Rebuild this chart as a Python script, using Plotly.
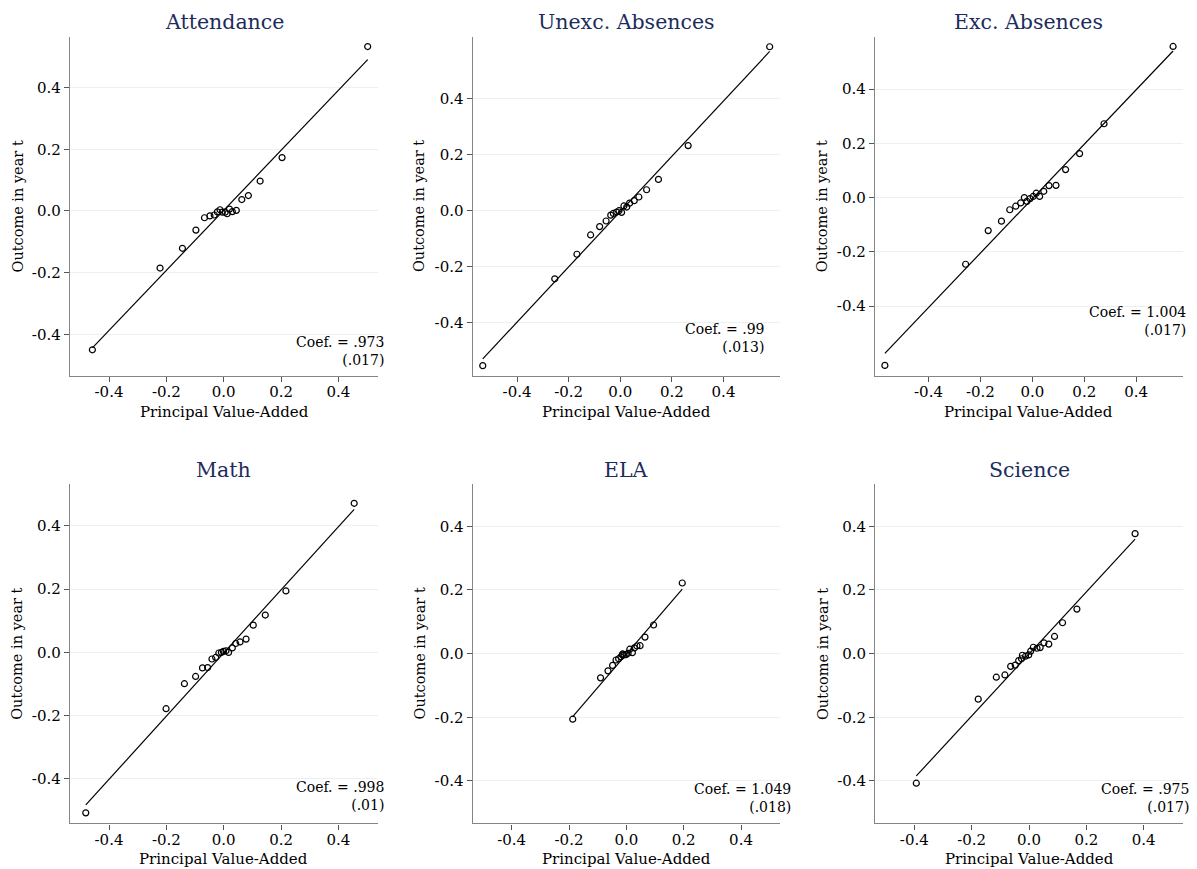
import plotly.graph_objects as go

# The page body has an 8px default margin, so the figure is 8px smaller
# and all reference pixel positions are shifted by 8px.
OFF = 8
W, H = 1197 - OFF, 869 - OFF

# ---------------- data ----------------
titles = ["Attendance", "Unexc. Absences", "Exc. Absences", "Math", "ELA", "Science"]

att_x = [0.502, 0.2035, 0.127, 0.086, 0.063, 0.044, 0.030, 0.020, 0.012, 0.005,
         -0.005, -0.013, -0.022, -0.033, -0.048, -0.067, -0.097, -0.144, -0.222, -0.458]
att_y = [0.533, 0.173, 0.097, 0.050, 0.037, 0.002, -0.002, 0.006, -0.009, -0.004,
         -0.004, 0.004, -0.003, -0.013, -0.016, -0.022, -0.062, -0.121, -0.185, -0.450]

unex_x = [0.579, 0.263, 0.148, 0.102, 0.072, 0.054, 0.036, 0.025, 0.014, 0.005,
          -0.005, -0.014, -0.027, -0.037, -0.055, -0.080, -0.115, -0.168, -0.254, -0.533]
unex_y = [0.587, 0.233, 0.112, 0.075, 0.049, 0.036, 0.027, 0.013, 0.017, -0.006,
          0.000, -0.005, -0.010, -0.016, -0.037, -0.057, -0.087, -0.156, -0.244, -0.555]

exc_x = [0.542, 0.276, 0.182, 0.128, 0.091, 0.064, 0.044, 0.028, 0.015, 0.003,
         -0.009, -0.021, -0.031, -0.045, -0.064, -0.087, -0.119, -0.170, -0.257, -0.568]
exc_y = [0.557, 0.272, 0.162, 0.103, 0.045, 0.044, 0.023, 0.004, 0.016, 0.004,
         -0.004, -0.014, 0.000, -0.020, -0.032, -0.045, -0.087, -0.122, -0.246, -0.619]

math_x = [0.455, 0.217, 0.145, 0.103, 0.078, 0.057, 0.042, 0.030, 0.017, 0.008,
          -0.001, -0.008, -0.017, -0.028, -0.041, -0.056, -0.074, -0.098, -0.137, -0.201, -0.481]
math_y = [0.471, 0.194, 0.118, 0.086, 0.042, 0.033, 0.028, 0.014, 0.000, 0.005,
          0.003, 0.000, -0.002, -0.016, -0.021, -0.048, -0.049, -0.076, -0.099, -0.178, -0.507]

ela_x = [0.195, 0.095, 0.065, 0.048, 0.037, 0.028, 0.021, 0.012, 0.006, -0.001,
         -0.008, -0.013, -0.014, -0.019, -0.027, -0.036, -0.048, -0.064, -0.090, -0.187]
ela_y = [0.222, 0.090, 0.052, 0.025, 0.024, 0.018, 0.003, 0.014, 0.001, -0.003,
         -0.004, -0.001, -0.004, -0.010, -0.016, -0.020, -0.037, -0.054, -0.076, -0.206]

sci_x = [0.370, 0.167, 0.117, 0.089, 0.069, 0.052, 0.039, 0.028, 0.015, 0.006,
         -0.001, -0.012, -0.023, -0.026, -0.036, -0.048, -0.064, -0.084, -0.114, -0.177, -0.393]
sci_y = [0.377, 0.140, 0.097, 0.054, 0.030, 0.034, 0.019, 0.017, 0.020, 0.008,
         -0.004, -0.008, -0.005, -0.016, -0.022, -0.036, -0.040, -0.067, -0.074, -0.143, -0.407]

coef_labels = [".973", ".99", "1.004", ".998", "1.049", ".975"]
se_labels = ["(.017)", "(.013)", "(.017)", "(.01)", "(.018)", "(.017)"]
slopes = [0.973, 0.99, 1.004, 0.998, 1.049, 0.975]
intercepts = [0.002, -0.003, -0.004, -0.002, -0.002, -0.001]

tick_vals = [-0.4, -0.2, 0.0, 0.2, 0.4]
tick_text = ["-0.4", "-0.2", "0.0", "0.2", "0.4"]

x_title = "Principal Value-Added"
y_title = "Outcome in year t"

xs = [att_x, unex_x, exc_x, math_x, ela_x, sci_x]
ys = [att_y, unex_y, exc_y, math_y, ela_y, sci_y]

# ---------------- layout geometry (reference pixels) ----------------
px_x = [(70, 378), (472.7, 780), (875, 1182.7), (70, 377.7), (472.7, 780), (875.3, 1182.7)]
px_y = [(37, 376), (36.7, 376), (36.7, 376), (484.3, 823.3), (484.3, 823.3), (484.3, 823.3)]
x_ranges = [(-0.536, 0.538), (-0.572, 0.619), (-0.606, 0.579),
            (-0.536, 0.537), (-0.536, 0.536), (-0.536, 0.536)]
y_ranges = [(-0.535, 0.564), (-0.592, 0.623), (-0.658, 0.593),
            (-0.540, 0.531), (-0.533, 0.532), (-0.533, 0.532)]

FONT = "DejaVu Serif"
TITLE_COLOR = "#1c2c5c"
GRID = "#e9f1f3"
AXIS = "#858585"


def fx(p):
    return (p - OFF) / W


def fy(p):
    return 1 - (p - OFF) / H


fig = go.Figure()
layout = dict(
    width=W, height=H, margin=dict(l=0, r=0, t=0, b=0),
    paper_bgcolor="white", plot_bgcolor="white", showlegend=False,
    font=dict(family=FONT, size=14, color="black"),
)
annotations = []

for i in range(6):
    k = "" if i == 0 else str(i + 1)
    xa, ya = "x" + k, "y" + k
    x0p, x1p = px_x[i]
    y0p, y1p = px_y[i]
    layout["xaxis" + k] = dict(
        domain=[fx(x0p), fx(x1p)], range=list(x_ranges[i]), anchor=ya,
        tickvals=tick_vals, ticktext=tick_text, ticks="outside", ticklen=5,
        tickwidth=1.2, tickcolor="#555555", showline=True, linecolor=AXIS,
        linewidth=1.4, showgrid=False, zeroline=False, ticklabelstandoff=-3,
        tickfont=dict(family=FONT, size=15, color="black"),
    )
    layout["yaxis" + k] = dict(
        domain=[fy(y1p), fy(y0p)], range=list(y_ranges[i]), anchor=xa,
        tickvals=tick_vals, ticktext=tick_text, ticks="outside", ticklen=5,
        tickwidth=1.2, tickcolor="#555555", showline=True, linecolor=AXIS,
        linewidth=1.4, showgrid=True, gridcolor=GRID, gridwidth=1.2,
        zeroline=False, tickfont=dict(family=FONT, size=15, color="black"),
    )
    # fit line
    xmin, xmax = min(xs[i]), max(xs[i])
    fig.add_trace(go.Scatter(
        x=[xmin, xmax],
        y=[intercepts[i] + slopes[i] * xmin, intercepts[i] + slopes[i] * xmax],
        mode="lines", line=dict(color="black", width=1.2),
        xaxis=xa, yaxis=ya, hoverinfo="skip"))
    # binned points
    fig.add_trace(go.Scatter(
        x=xs[i], y=ys[i], mode="markers",
        marker=dict(symbol="circle-open", size=6, color="black",
                    line=dict(color="black", width=1.2)),
        xaxis=xa, yaxis=ya))
    cxp = (x0p + x1p) / 2
    cyp = (y0p + y1p) / 2
    # panel title
    annotations.append(dict(
        text=titles[i], x=fx(cxp), y=fy(y0p - 14.5), xref="paper", yref="paper",
        xanchor="center", yanchor="middle", showarrow=False,
        font=dict(family=FONT, size=20.5, color=TITLE_COLOR)))
    # x title
    annotations.append(dict(
        text=x_title, x=fx(cxp), y=fy(y1p + 35.5), xref="paper", yref="paper",
        xanchor="center", yanchor="middle", showarrow=False,
        font=dict(family=FONT, size=15, color="black")))
    # y title
    annotations.append(dict(
        text=y_title, x=fx(x0p - 53), y=fy(cyp), xref="paper", yref="paper",
        xanchor="center", yanchor="middle", showarrow=False, textangle=-90,
        font=dict(family=FONT, size=14.5, color="black")))
    # coefficient box
    annotations.append(dict(
        text="Coef. = " + coef_labels[i] + "<br>" + se_labels[i],
        x=0.405, y=-0.455, xref=xa, yref=ya, xanchor="center", yanchor="middle",
        align="right", showarrow=False,
        font=dict(family=FONT, size=14, color="black")))

layout["annotations"] = annotations
fig.update_layout(**layout)
fig.write_html("out.html")
